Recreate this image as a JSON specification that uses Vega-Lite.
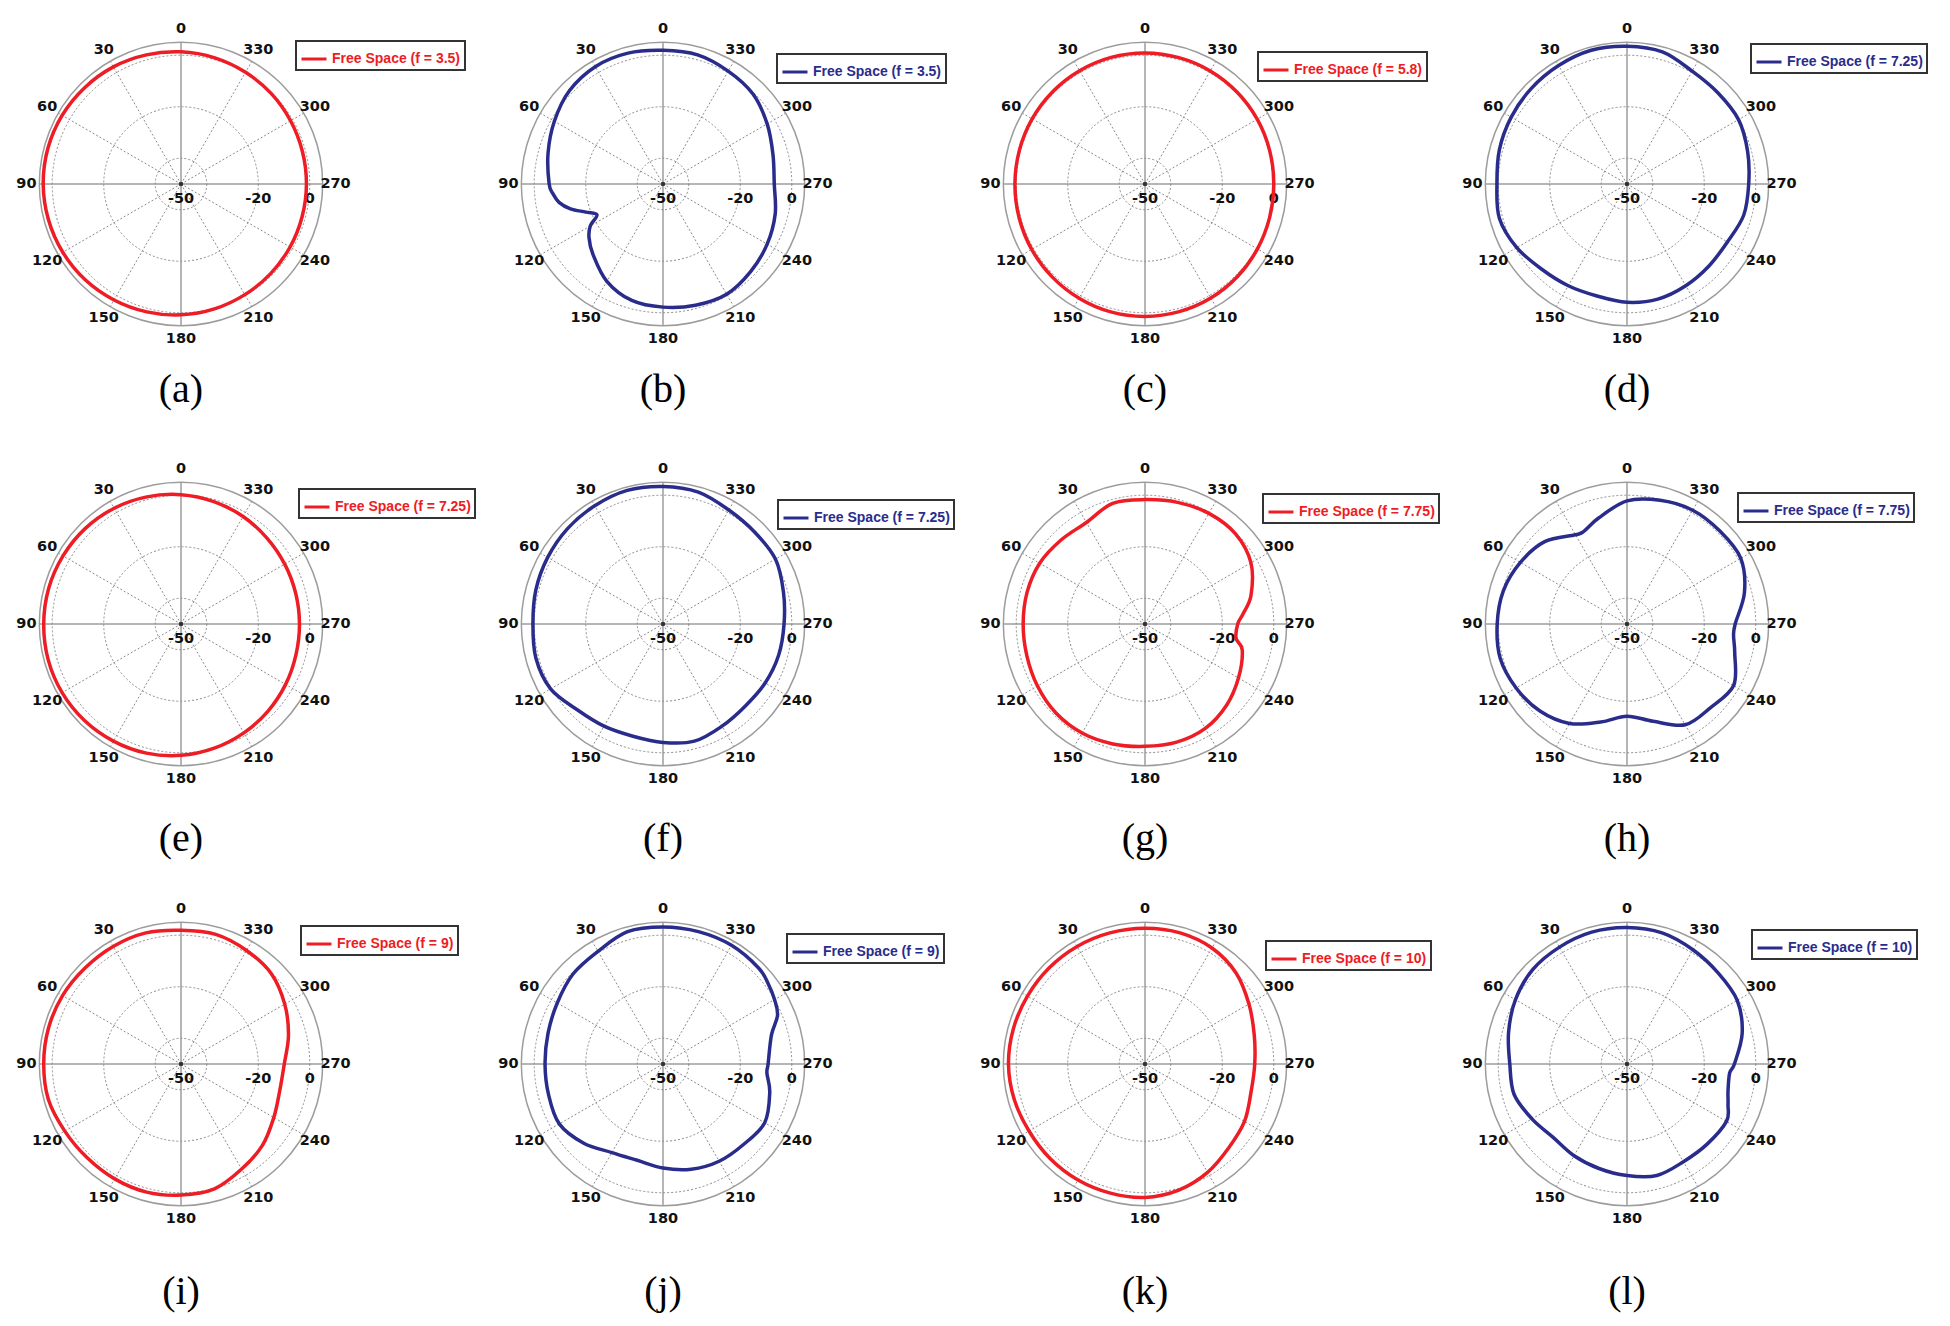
{
"$schema": "https://vega.github.io/schema/vega-lite/v6.json",
"background": "white",
"padding": {"left": 11, "top": 14, "right": 5, "bottom": 5},
"autosize": {"type": "pad"},
"columns": 4,
"spacing": {"row": 100, "column": 142},
"bounds": "flush",
"datasets": {
"ang": [{"a":0},{"a":30},{"a":60},{"a":90},{"a":120},{"a":150},{"a":180},{"a":210},{"a":240},{"a":270},{"a":300},{"a":330}],
"rings": [{"u":10},{"u":30},{"u":50},{"u":55}],
"rlab": [{"u":0,"t":"-50"},{"u":30,"t":"-20"},{"u":50,"t":"0"}],
"gain": [
{"p":"a","a":0,"g":1.3},{"p":"a","a":15,"g":1.9},{"p":"a","a":30,"g":2.5},{"p":"a","a":45,"g":2.9},{"p":"a","a":60,"g":3.3},{"p":"a","a":75,"g":3.5},{"p":"a","a":90,"g":3.5},{"p":"a","a":105,"g":3.3},{"p":"a","a":120,"g":3.0},{"p":"a","a":135,"g":2.6},{"p":"a","a":150,"g":2.0},{"p":"a","a":165,"g":1.4},{"p":"a","a":180,"g":0.8},{"p":"a","a":195,"g":0.2},{"p":"a","a":210,"g":-0.4},{"p":"a","a":225,"g":-0.8},{"p":"a","a":240,"g":-1.1},{"p":"a","a":255,"g":-1.3},{"p":"a","a":270,"g":-1.3},{"p":"a","a":285,"g":-1.2},{"p":"a","a":300,"g":-0.9},{"p":"a","a":315,"g":-0.4},{"p":"a","a":330,"g":0.1},{"p":"a","a":345,"g":0.7},
{"p":"b","a":0,"g":1.9},{"p":"b","a":15,"g":2.6},{"p":"b","a":30,"g":2.6},{"p":"b","a":45,"g":1.3},{"p":"b","a":60,"g":-1.3},{"p":"b","a":75,"g":-3.8},{"p":"b","a":90,"g":-5.8},{"p":"b","a":95,"g":-7.1},{"p":"b","a":100,"g":-9},{"p":"b","a":105,"g":-12.8},{"p":"b","a":110,"g":-18.1},{"p":"b","a":115,"g":-21.7},{"p":"b","a":120,"g":-17.4},{"p":"b","a":126,"g":-14.5},{"p":"b","a":135,"g":-11.5},{"p":"b","a":150,"g":-6.4},{"p":"b","a":165,"g":-3.2},{"p":"b","a":180,"g":-2.2},{"p":"b","a":195,"g":-1.3},{"p":"b","a":210,"g":-0.6},{"p":"b","a":225,"g":-1.9},{"p":"b","a":240,"g":-3.3},{"p":"b","a":255,"g":-4.9},{"p":"b","a":270,"g":-6.8},{"p":"b","a":285,"g":-5.8},{"p":"b","a":300,"g":-3.3},{"p":"b","a":315,"g":-0.6},{"p":"b","a":330,"g":0.6},{"p":"b","a":345,"g":1.9},
{"p":"c","a":0,"g":0.9},{"p":"c","a":15,"g":0.9},{"p":"c","a":30,"g":0.8},{"p":"c","a":45,"g":0.7},{"p":"c","a":60,"g":0.6},{"p":"c","a":75,"g":0.5},{"p":"c","a":90,"g":0.5},{"p":"c","a":105,"g":0.6},{"p":"c","a":120,"g":0.8},{"p":"c","a":135,"g":1.0},{"p":"c","a":150,"g":1.2},{"p":"c","a":165,"g":1.4},{"p":"c","a":180,"g":1.4},{"p":"c","a":195,"g":1.3},{"p":"c","a":210,"g":1.1},{"p":"c","a":225,"g":0.8},{"p":"c","a":240,"g":0.4},{"p":"c","a":255,"g":0.1},{"p":"c","a":270,"g":0.0},{"p":"c","a":285,"g":0.1},{"p":"c","a":300,"g":0.3},{"p":"c","a":315,"g":0.5},{"p":"c","a":330,"g":0.7},{"p":"c","a":345,"g":0.8},
{"p":"d","a":0,"g":3.5},{"p":"d","a":15,"g":3.75},{"p":"d","a":30,"g":3.1},{"p":"d","a":45,"g":2.5},{"p":"d","a":60,"g":1.9},{"p":"d","a":75,"g":1.3},{"p":"d","a":90,"g":0.5},{"p":"d","a":105,"g":1.3},{"p":"d","a":120,"g":-0.6},{"p":"d","a":135,"g":-3.2},{"p":"d","a":150,"g":-4.4},{"p":"d","a":165,"g":-5},{"p":"d","a":180,"g":-4.1},{"p":"d","a":195,"g":-3.75},{"p":"d","a":210,"g":-4.4},{"p":"d","a":225,"g":-5},{"p":"d","a":240,"g":-5},{"p":"d","a":255,"g":-3.1},{"p":"d","a":270,"g":-2.75},{"p":"d","a":285,"g":-1.5},{"p":"d","a":300,"g":0},{"p":"d","a":315,"g":0},{"p":"d","a":330,"g":0.6},{"p":"d","a":345,"g":3.1},
{"p":"e","a":0,"g":0.2},{"p":"e","a":15,"g":1.1},{"p":"e","a":30,"g":1.9},{"p":"e","a":45,"g":2.5},{"p":"e","a":60,"g":2.9},{"p":"e","a":75,"g":3.2},{"p":"e","a":90,"g":3.3},{"p":"e","a":105,"g":3.4},{"p":"e","a":120,"g":3.3},{"p":"e","a":135,"g":3.0},{"p":"e","a":150,"g":2.5},{"p":"e","a":165,"g":1.9},{"p":"e","a":180,"g":1.0},{"p":"e","a":195,"g":-0.1},{"p":"e","a":210,"g":-1.2},{"p":"e","a":225,"g":-2.2},{"p":"e","a":240,"g":-3.1},{"p":"e","a":255,"g":-3.8},{"p":"e","a":270,"g":-4.0},{"p":"e","a":285,"g":-3.9},{"p":"e","a":300,"g":-3.5},{"p":"e","a":315,"g":-2.8},{"p":"e","a":330,"g":-1.8},{"p":"e","a":345,"g":-0.8},
{"p":"f","a":0,"g":3.4},{"p":"f","a":15,"g":3.7},{"p":"f","a":30,"g":3},{"p":"f","a":45,"g":2.4},{"p":"f","a":60,"g":1.7},{"p":"f","a":75,"g":1.1},{"p":"f","a":90,"g":0.5},{"p":"f","a":105,"g":1.1},{"p":"f","a":120,"g":0.4},{"p":"f","a":135,"g":-2.9},{"p":"f","a":150,"g":-4.2},{"p":"f","a":165,"g":-4.9},{"p":"f","a":180,"g":-4},{"p":"f","a":195,"g":-2.9},{"p":"f","a":210,"g":-4.2},{"p":"f","a":225,"g":-4.9},{"p":"f","a":240,"g":-4.2},{"p":"f","a":255,"g":-3.5},{"p":"f","a":270,"g":-3},{"p":"f","a":285,"g":-1.6},{"p":"f","a":300,"g":0.4},{"p":"f","a":315,"g":0.4},{"p":"f","a":330,"g":1.1},{"p":"f","a":345,"g":3},
{"p":"g","a":0,"g":-1.7},{"p":"g","a":15,"g":-1.5},{"p":"g","a":30,"g":-4.5},{"p":"g","a":45,"g":-3.9},{"p":"g","a":60,"g":-2.8},{"p":"g","a":75,"g":-2.6},{"p":"g","a":90,"g":-2.7},{"p":"g","a":105,"g":-2.5},{"p":"g","a":120,"g":-1.8},{"p":"g","a":135,"g":-1.1},{"p":"g","a":150,"g":-1.1},{"p":"g","a":165,"g":-1.8},{"p":"g","a":180,"g":-2.5},{"p":"g","a":195,"g":-2.5},{"p":"g","a":210,"g":-3.2},{"p":"g","a":225,"g":-5.3},{"p":"g","a":240,"g":-8.1},{"p":"g","a":255,"g":-10.9},{"p":"g","a":261,"g":-14.2},{"p":"g","a":270,"g":-14},{"p":"g","a":276,"g":-11.7},{"p":"g","a":285,"g":-7.4},{"p":"g","a":300,"g":-2.5},{"p":"g","a":315,"g":-0.4},{"p":"g","a":330,"g":-0.4},{"p":"g","a":345,"g":-1.1},
{"p":"h","a":0,"g":-2.2},{"p":"h","a":15,"g":-7.4},{"p":"h","a":25,"g":-10.3},{"p":"h","a":30,"g":-10},{"p":"h","a":45,"g":-4.8},{"p":"h","a":60,"g":-2.2},{"p":"h","a":75,"g":-0.3},{"p":"h","a":90,"g":0.4},{"p":"h","a":105,"g":1},{"p":"h","a":120,"g":-0.3},{"p":"h","a":135,"g":-2.2},{"p":"h","a":150,"g":-5.4},{"p":"h","a":165,"g":-10.6},{"p":"h","a":180,"g":-14.2},{"p":"h","a":195,"g":-10.9},{"p":"h","a":210,"g":-4.8},{"p":"h","a":225,"g":-4.1},{"p":"h","a":240,"g":-2.2},{"p":"h","a":255,"g":-6.7},{"p":"h","a":264,"g":-8.4},{"p":"h","a":270,"g":-8},{"p":"h","a":285,"g":-2.8},{"p":"h","a":300,"g":1},{"p":"h","a":315,"g":1},{"p":"h","a":330,"g":1},{"p":"h","a":345,"g":-0.3},
{"p":"i","a":0,"g":1.9},{"p":"i","a":15,"g":2.7},{"p":"i","a":30,"g":2.7},{"p":"i","a":45,"g":2.7},{"p":"i","a":60,"g":3.1},{"p":"i","a":75,"g":3.3},{"p":"i","a":90,"g":3.3},{"p":"i","a":105,"g":3.3},{"p":"i","a":120,"g":2.1},{"p":"i","a":135,"g":1.5},{"p":"i","a":150,"g":1.5},{"p":"i","a":165,"g":1.5},{"p":"i","a":180,"g":0.9},{"p":"i","a":195,"g":0.2},{"p":"i","a":210,"g":-2.9},{"p":"i","a":225,"g":-5.3},{"p":"i","a":240,"g":-8.4},{"p":"i","a":255,"g":-10.3},{"p":"i","a":270,"g":-9.9},{"p":"i","a":285,"g":-6.8},{"p":"i","a":300,"g":-3.5},{"p":"i","a":315,"g":-0.4},{"p":"i","a":330,"g":0.9},{"p":"i","a":345,"g":2.1},
{"p":"j","a":0,"g":3.2},{"p":"j","a":15,"g":3.2},{"p":"j","a":30,"g":0.5},{"p":"j","a":45,"g":-0.6},{"p":"j","a":60,"g":-2.6},{"p":"j","a":75,"g":-3.8},{"p":"j","a":90,"g":-4.2},{"p":"j","a":105,"g":-4},{"p":"j","a":120,"g":-3.5},{"p":"j","a":135,"g":-6.5},{"p":"j","a":150,"g":-10.3},{"p":"j","a":165,"g":-11.3},{"p":"j","a":180,"g":-9.6},{"p":"j","a":195,"g":-7.7},{"p":"j","a":210,"g":-6.4},{"p":"j","a":225,"g":-5.8},{"p":"j","a":240,"g":-4.4},{"p":"j","a":255,"g":-7.1},{"p":"j","a":265,"g":-9.5},{"p":"j","a":270,"g":-9.2},{"p":"j","a":285,"g":-6.4},{"p":"j","a":293,"g":-1.7},{"p":"j","a":300,"g":0},{"p":"j","a":307,"g":1.3},{"p":"j","a":315,"g":2.6},{"p":"j","a":330,"g":3.2},{"p":"j","a":345,"g":3.2},
{"p":"k","a":0,"g":2.7},{"p":"k","a":15,"g":2.7},{"p":"k","a":30,"g":2.7},{"p":"k","a":45,"g":2.7},{"p":"k","a":60,"g":2.7},{"p":"k","a":75,"g":2.9},{"p":"k","a":90,"g":3},{"p":"k","a":105,"g":2.6},{"p":"k","a":120,"g":2},{"p":"k","a":135,"g":2},{"p":"k","a":150,"g":2},{"p":"k","a":165,"g":1.9},{"p":"k","a":180,"g":1.8},{"p":"k","a":195,"g":0.7},{"p":"k","a":210,"g":-1.4},{"p":"k","a":225,"g":-4},{"p":"k","a":240,"g":-5.4},{"p":"k","a":255,"g":-7.4},{"p":"k","a":270,"g":-7.4},{"p":"k","a":285,"g":-6.1},{"p":"k","a":300,"g":-3.4},{"p":"k","a":315,"g":0},{"p":"k","a":330,"g":2},{"p":"k","a":345,"g":2.7},
{"p":"l","a":0,"g":3},{"p":"l","a":15,"g":3},{"p":"l","a":30,"g":2.4},{"p":"l","a":45,"g":1.8},{"p":"l","a":60,"g":0},{"p":"l","a":75,"g":-2.4},{"p":"l","a":90,"g":-4.5},{"p":"l","a":105,"g":-4.6},{"p":"l","a":120,"g":-7.4},{"p":"l","a":135,"g":-9.6},{"p":"l","a":150,"g":-8.9},{"p":"l","a":165,"g":-8},{"p":"l","a":180,"g":-6.7},{"p":"l","a":195,"g":-5.2},{"p":"l","a":210,"g":-6.2},{"p":"l","a":225,"g":-6},{"p":"l","a":240,"g":-5.4},{"p":"l","a":248,"g":-7.7},{"p":"l","a":255,"g":-9.4},{"p":"l","a":265,"g":-10},{"p":"l","a":270,"g":-8.3},{"p":"l","a":285,"g":-3.7},{"p":"l","a":300,"g":-0.6},{"p":"l","a":315,"g":0},{"p":"l","a":330,"g":1.2},{"p":"l","a":345,"g":2.7}
]
},
"concat": [
{"width":340,"height":340,"title":{"text":"(a)","offset":16},
"encoding":{"x":{"field":"x","type":"quantitative","scale":{"domain":[-66,66]},"axis":null},"y":{"field":"y","type":"quantitative","scale":{"domain":[-66,66]},"axis":null}},
"layer":[
{"data":{"name":"ang"},"transform":[{"filter":"datum.a % 90 != 0"},{"calculate":"0","as":"x"},{"calculate":"0","as":"y"},{"calculate":"-55*sin(datum.a*PI/180)","as":"x2"},{"calculate":"55*cos(datum.a*PI/180)","as":"y2"}],"mark":{"type":"rule","stroke":"#8c8c8c","strokeWidth":1,"strokeDash":[2,2]},"encoding":{"x2":{"field":"x2"},"y2":{"field":"y2"}}},
{"data":{"name":"ang"},"transform":[{"filter":"datum.a % 90 == 0"},{"calculate":"0","as":"x"},{"calculate":"0","as":"y"},{"calculate":"-55*sin(datum.a*PI/180)","as":"x2"},{"calculate":"55*cos(datum.a*PI/180)","as":"y2"}],"mark":{"type":"rule","stroke":"#9c9c9c","strokeWidth":1.5},"encoding":{"x2":{"field":"x2"},"y2":{"field":"y2"}}},
{"data":{"name":"rings"},"transform":[{"filter":"datum.u < 55"},{"calculate":"0","as":"x"},{"calculate":"0","as":"y"}],"mark":{"type":"point","shape":"circle","filled":false,"opacity":1,"stroke":"#8c8c8c","strokeWidth":1,"strokeDash":[2,2]},"encoding":{"size":{"field":"u","type":"quantitative","scale":{"type":"pow","exponent":2,"domain":[0,66],"range":[0,115600]},"legend":null}}},
{"data":{"name":"rings"},"transform":[{"filter":"datum.u == 55"},{"calculate":"0","as":"x"},{"calculate":"0","as":"y"}],"mark":{"type":"point","shape":"circle","filled":false,"opacity":1,"stroke":"#9c9c9c","strokeWidth":1.5},"encoding":{"size":{"field":"u","type":"quantitative","scale":{"type":"pow","exponent":2,"domain":[0,66],"range":[0,115600]},"legend":null}}},
{"data":{"name":"ang"},"transform":[{"calculate":"-60*sin(datum.a*PI/180)","as":"x"},{"calculate":"60*cos(datum.a*PI/180)","as":"y"}],"mark":{"type":"text","font":"DejaVu Sans","fontWeight":"bold","fontSize":14.5,"color":"#111"},"encoding":{"text":{"field":"a","type":"nominal"}}},
{"data":{"name":"rlab"},"transform":[{"calculate":"datum.u","as":"x"},{"calculate":"0","as":"y"}],"mark":{"type":"text","font":"DejaVu Sans","fontWeight":"bold","fontSize":14.5,"color":"#111","dy":15},"encoding":{"text":{"field":"t","type":"nominal"}}},
{"data":{"name":"rlab"},"transform":[{"filter":"datum.u == 0"},{"calculate":"0","as":"x"},{"calculate":"0","as":"y"}],"mark":{"type":"point","filled":true,"opacity":1,"color":"#333","size":20}},
{"data":{"name":"gain"},"transform":[{"filter":"datum.p == 'a'"},{"calculate":"-(datum.g+50)*sin(datum.a*PI/180)","as":"x"},{"calculate":"(datum.g+50)*cos(datum.a*PI/180)","as":"y"}],"mark":{"type":"line","interpolate":"cardinal-closed","strokeWidth":3.5},"encoding":{"order":{"field":"a","type":"quantitative"},"color":{"datum":"Free Space (f = 3.5)","type":"nominal","scale":{"range":["#ee1c24"]},"legend":{"title":null,"orient":"none","legendX":285,"legendY":27,"labelColor":"#ee1c24"}}}}
]},
{"width":340,"height":340,"title":{"text":"(b)","offset":16},
"encoding":{"x":{"field":"x","type":"quantitative","scale":{"domain":[-66,66]},"axis":null},"y":{"field":"y","type":"quantitative","scale":{"domain":[-66,66]},"axis":null}},
"layer":[
{"data":{"name":"ang"},"transform":[{"filter":"datum.a % 90 != 0"},{"calculate":"0","as":"x"},{"calculate":"0","as":"y"},{"calculate":"-55*sin(datum.a*PI/180)","as":"x2"},{"calculate":"55*cos(datum.a*PI/180)","as":"y2"}],"mark":{"type":"rule","stroke":"#8c8c8c","strokeWidth":1,"strokeDash":[2,2]},"encoding":{"x2":{"field":"x2"},"y2":{"field":"y2"}}},
{"data":{"name":"ang"},"transform":[{"filter":"datum.a % 90 == 0"},{"calculate":"0","as":"x"},{"calculate":"0","as":"y"},{"calculate":"-55*sin(datum.a*PI/180)","as":"x2"},{"calculate":"55*cos(datum.a*PI/180)","as":"y2"}],"mark":{"type":"rule","stroke":"#9c9c9c","strokeWidth":1.5},"encoding":{"x2":{"field":"x2"},"y2":{"field":"y2"}}},
{"data":{"name":"rings"},"transform":[{"filter":"datum.u < 55"},{"calculate":"0","as":"x"},{"calculate":"0","as":"y"}],"mark":{"type":"point","shape":"circle","filled":false,"opacity":1,"stroke":"#8c8c8c","strokeWidth":1,"strokeDash":[2,2]},"encoding":{"size":{"field":"u","type":"quantitative","scale":{"type":"pow","exponent":2,"domain":[0,66],"range":[0,115600]},"legend":null}}},
{"data":{"name":"rings"},"transform":[{"filter":"datum.u == 55"},{"calculate":"0","as":"x"},{"calculate":"0","as":"y"}],"mark":{"type":"point","shape":"circle","filled":false,"opacity":1,"stroke":"#9c9c9c","strokeWidth":1.5},"encoding":{"size":{"field":"u","type":"quantitative","scale":{"type":"pow","exponent":2,"domain":[0,66],"range":[0,115600]},"legend":null}}},
{"data":{"name":"ang"},"transform":[{"calculate":"-60*sin(datum.a*PI/180)","as":"x"},{"calculate":"60*cos(datum.a*PI/180)","as":"y"}],"mark":{"type":"text","font":"DejaVu Sans","fontWeight":"bold","fontSize":14.5,"color":"#111"},"encoding":{"text":{"field":"a","type":"nominal"}}},
{"data":{"name":"rlab"},"transform":[{"calculate":"datum.u","as":"x"},{"calculate":"0","as":"y"}],"mark":{"type":"text","font":"DejaVu Sans","fontWeight":"bold","fontSize":14.5,"color":"#111","dy":15},"encoding":{"text":{"field":"t","type":"nominal"}}},
{"data":{"name":"rlab"},"transform":[{"filter":"datum.u == 0"},{"calculate":"0","as":"x"},{"calculate":"0","as":"y"}],"mark":{"type":"point","filled":true,"opacity":1,"color":"#333","size":20}},
{"data":{"name":"gain"},"transform":[{"filter":"datum.p == 'b'"},{"calculate":"-(datum.g+50)*sin(datum.a*PI/180)","as":"x"},{"calculate":"(datum.g+50)*cos(datum.a*PI/180)","as":"y"}],"mark":{"type":"line","interpolate":"cardinal-closed","strokeWidth":3.5},"encoding":{"order":{"field":"a","type":"quantitative"},"color":{"datum":"Free Space (f = 3.5)","type":"nominal","scale":{"range":["#2a2c8c"]},"legend":{"title":null,"orient":"none","legendX":284,"legendY":40,"labelColor":"#2a2c8c"}}}}
]},
{"width":340,"height":340,"title":{"text":"(c)","offset":16},
"encoding":{"x":{"field":"x","type":"quantitative","scale":{"domain":[-66,66]},"axis":null},"y":{"field":"y","type":"quantitative","scale":{"domain":[-66,66]},"axis":null}},
"layer":[
{"data":{"name":"ang"},"transform":[{"filter":"datum.a % 90 != 0"},{"calculate":"0","as":"x"},{"calculate":"0","as":"y"},{"calculate":"-55*sin(datum.a*PI/180)","as":"x2"},{"calculate":"55*cos(datum.a*PI/180)","as":"y2"}],"mark":{"type":"rule","stroke":"#8c8c8c","strokeWidth":1,"strokeDash":[2,2]},"encoding":{"x2":{"field":"x2"},"y2":{"field":"y2"}}},
{"data":{"name":"ang"},"transform":[{"filter":"datum.a % 90 == 0"},{"calculate":"0","as":"x"},{"calculate":"0","as":"y"},{"calculate":"-55*sin(datum.a*PI/180)","as":"x2"},{"calculate":"55*cos(datum.a*PI/180)","as":"y2"}],"mark":{"type":"rule","stroke":"#9c9c9c","strokeWidth":1.5},"encoding":{"x2":{"field":"x2"},"y2":{"field":"y2"}}},
{"data":{"name":"rings"},"transform":[{"filter":"datum.u < 55"},{"calculate":"0","as":"x"},{"calculate":"0","as":"y"}],"mark":{"type":"point","shape":"circle","filled":false,"opacity":1,"stroke":"#8c8c8c","strokeWidth":1,"strokeDash":[2,2]},"encoding":{"size":{"field":"u","type":"quantitative","scale":{"type":"pow","exponent":2,"domain":[0,66],"range":[0,115600]},"legend":null}}},
{"data":{"name":"rings"},"transform":[{"filter":"datum.u == 55"},{"calculate":"0","as":"x"},{"calculate":"0","as":"y"}],"mark":{"type":"point","shape":"circle","filled":false,"opacity":1,"stroke":"#9c9c9c","strokeWidth":1.5},"encoding":{"size":{"field":"u","type":"quantitative","scale":{"type":"pow","exponent":2,"domain":[0,66],"range":[0,115600]},"legend":null}}},
{"data":{"name":"ang"},"transform":[{"calculate":"-60*sin(datum.a*PI/180)","as":"x"},{"calculate":"60*cos(datum.a*PI/180)","as":"y"}],"mark":{"type":"text","font":"DejaVu Sans","fontWeight":"bold","fontSize":14.5,"color":"#111"},"encoding":{"text":{"field":"a","type":"nominal"}}},
{"data":{"name":"rlab"},"transform":[{"calculate":"datum.u","as":"x"},{"calculate":"0","as":"y"}],"mark":{"type":"text","font":"DejaVu Sans","fontWeight":"bold","fontSize":14.5,"color":"#111","dy":15},"encoding":{"text":{"field":"t","type":"nominal"}}},
{"data":{"name":"rlab"},"transform":[{"filter":"datum.u == 0"},{"calculate":"0","as":"x"},{"calculate":"0","as":"y"}],"mark":{"type":"point","filled":true,"opacity":1,"color":"#333","size":20}},
{"data":{"name":"gain"},"transform":[{"filter":"datum.p == 'c'"},{"calculate":"-(datum.g+50)*sin(datum.a*PI/180)","as":"x"},{"calculate":"(datum.g+50)*cos(datum.a*PI/180)","as":"y"}],"mark":{"type":"line","interpolate":"cardinal-closed","strokeWidth":3.5},"encoding":{"order":{"field":"a","type":"quantitative"},"color":{"datum":"Free Space (f = 5.8)","type":"nominal","scale":{"range":["#ee1c24"]},"legend":{"title":null,"orient":"none","legendX":283,"legendY":38,"labelColor":"#ee1c24"}}}}
]},
{"width":340,"height":340,"title":{"text":"(d)","offset":16},
"encoding":{"x":{"field":"x","type":"quantitative","scale":{"domain":[-66,66]},"axis":null},"y":{"field":"y","type":"quantitative","scale":{"domain":[-66,66]},"axis":null}},
"layer":[
{"data":{"name":"ang"},"transform":[{"filter":"datum.a % 90 != 0"},{"calculate":"0","as":"x"},{"calculate":"0","as":"y"},{"calculate":"-55*sin(datum.a*PI/180)","as":"x2"},{"calculate":"55*cos(datum.a*PI/180)","as":"y2"}],"mark":{"type":"rule","stroke":"#8c8c8c","strokeWidth":1,"strokeDash":[2,2]},"encoding":{"x2":{"field":"x2"},"y2":{"field":"y2"}}},
{"data":{"name":"ang"},"transform":[{"filter":"datum.a % 90 == 0"},{"calculate":"0","as":"x"},{"calculate":"0","as":"y"},{"calculate":"-55*sin(datum.a*PI/180)","as":"x2"},{"calculate":"55*cos(datum.a*PI/180)","as":"y2"}],"mark":{"type":"rule","stroke":"#9c9c9c","strokeWidth":1.5},"encoding":{"x2":{"field":"x2"},"y2":{"field":"y2"}}},
{"data":{"name":"rings"},"transform":[{"filter":"datum.u < 55"},{"calculate":"0","as":"x"},{"calculate":"0","as":"y"}],"mark":{"type":"point","shape":"circle","filled":false,"opacity":1,"stroke":"#8c8c8c","strokeWidth":1,"strokeDash":[2,2]},"encoding":{"size":{"field":"u","type":"quantitative","scale":{"type":"pow","exponent":2,"domain":[0,66],"range":[0,115600]},"legend":null}}},
{"data":{"name":"rings"},"transform":[{"filter":"datum.u == 55"},{"calculate":"0","as":"x"},{"calculate":"0","as":"y"}],"mark":{"type":"point","shape":"circle","filled":false,"opacity":1,"stroke":"#9c9c9c","strokeWidth":1.5},"encoding":{"size":{"field":"u","type":"quantitative","scale":{"type":"pow","exponent":2,"domain":[0,66],"range":[0,115600]},"legend":null}}},
{"data":{"name":"ang"},"transform":[{"calculate":"-60*sin(datum.a*PI/180)","as":"x"},{"calculate":"60*cos(datum.a*PI/180)","as":"y"}],"mark":{"type":"text","font":"DejaVu Sans","fontWeight":"bold","fontSize":14.5,"color":"#111"},"encoding":{"text":{"field":"a","type":"nominal"}}},
{"data":{"name":"rlab"},"transform":[{"calculate":"datum.u","as":"x"},{"calculate":"0","as":"y"}],"mark":{"type":"text","font":"DejaVu Sans","fontWeight":"bold","fontSize":14.5,"color":"#111","dy":15},"encoding":{"text":{"field":"t","type":"nominal"}}},
{"data":{"name":"rlab"},"transform":[{"filter":"datum.u == 0"},{"calculate":"0","as":"x"},{"calculate":"0","as":"y"}],"mark":{"type":"point","filled":true,"opacity":1,"color":"#333","size":20}},
{"data":{"name":"gain"},"transform":[{"filter":"datum.p == 'd'"},{"calculate":"-(datum.g+50)*sin(datum.a*PI/180)","as":"x"},{"calculate":"(datum.g+50)*cos(datum.a*PI/180)","as":"y"}],"mark":{"type":"line","interpolate":"cardinal-closed","strokeWidth":3.5},"encoding":{"order":{"field":"a","type":"quantitative"},"color":{"datum":"Free Space (f = 7.25)","type":"nominal","scale":{"range":["#2a2c8c"]},"legend":{"title":null,"orient":"none","legendX":294,"legendY":30,"labelColor":"#2a2c8c"}}}}
]},
{"width":340,"height":340,"title":{"text":"(e)","offset":25},
"encoding":{"x":{"field":"x","type":"quantitative","scale":{"domain":[-66,66]},"axis":null},"y":{"field":"y","type":"quantitative","scale":{"domain":[-66,66]},"axis":null}},
"layer":[
{"data":{"name":"ang"},"transform":[{"filter":"datum.a % 90 != 0"},{"calculate":"0","as":"x"},{"calculate":"0","as":"y"},{"calculate":"-55*sin(datum.a*PI/180)","as":"x2"},{"calculate":"55*cos(datum.a*PI/180)","as":"y2"}],"mark":{"type":"rule","stroke":"#8c8c8c","strokeWidth":1,"strokeDash":[2,2]},"encoding":{"x2":{"field":"x2"},"y2":{"field":"y2"}}},
{"data":{"name":"ang"},"transform":[{"filter":"datum.a % 90 == 0"},{"calculate":"0","as":"x"},{"calculate":"0","as":"y"},{"calculate":"-55*sin(datum.a*PI/180)","as":"x2"},{"calculate":"55*cos(datum.a*PI/180)","as":"y2"}],"mark":{"type":"rule","stroke":"#9c9c9c","strokeWidth":1.5},"encoding":{"x2":{"field":"x2"},"y2":{"field":"y2"}}},
{"data":{"name":"rings"},"transform":[{"filter":"datum.u < 55"},{"calculate":"0","as":"x"},{"calculate":"0","as":"y"}],"mark":{"type":"point","shape":"circle","filled":false,"opacity":1,"stroke":"#8c8c8c","strokeWidth":1,"strokeDash":[2,2]},"encoding":{"size":{"field":"u","type":"quantitative","scale":{"type":"pow","exponent":2,"domain":[0,66],"range":[0,115600]},"legend":null}}},
{"data":{"name":"rings"},"transform":[{"filter":"datum.u == 55"},{"calculate":"0","as":"x"},{"calculate":"0","as":"y"}],"mark":{"type":"point","shape":"circle","filled":false,"opacity":1,"stroke":"#9c9c9c","strokeWidth":1.5},"encoding":{"size":{"field":"u","type":"quantitative","scale":{"type":"pow","exponent":2,"domain":[0,66],"range":[0,115600]},"legend":null}}},
{"data":{"name":"ang"},"transform":[{"calculate":"-60*sin(datum.a*PI/180)","as":"x"},{"calculate":"60*cos(datum.a*PI/180)","as":"y"}],"mark":{"type":"text","font":"DejaVu Sans","fontWeight":"bold","fontSize":14.5,"color":"#111"},"encoding":{"text":{"field":"a","type":"nominal"}}},
{"data":{"name":"rlab"},"transform":[{"calculate":"datum.u","as":"x"},{"calculate":"0","as":"y"}],"mark":{"type":"text","font":"DejaVu Sans","fontWeight":"bold","fontSize":14.5,"color":"#111","dy":15},"encoding":{"text":{"field":"t","type":"nominal"}}},
{"data":{"name":"rlab"},"transform":[{"filter":"datum.u == 0"},{"calculate":"0","as":"x"},{"calculate":"0","as":"y"}],"mark":{"type":"point","filled":true,"opacity":1,"color":"#333","size":20}},
{"data":{"name":"gain"},"transform":[{"filter":"datum.p == 'e'"},{"calculate":"-(datum.g+50)*sin(datum.a*PI/180)","as":"x"},{"calculate":"(datum.g+50)*cos(datum.a*PI/180)","as":"y"}],"mark":{"type":"line","interpolate":"cardinal-closed","strokeWidth":3.5},"encoding":{"order":{"field":"a","type":"quantitative"},"color":{"datum":"Free Space (f = 7.25)","type":"nominal","scale":{"range":["#ee1c24"]},"legend":{"title":null,"orient":"none","legendX":288,"legendY":35,"labelColor":"#ee1c24"}}}}
]},
{"width":340,"height":340,"title":{"text":"(f)","offset":25},
"encoding":{"x":{"field":"x","type":"quantitative","scale":{"domain":[-66,66]},"axis":null},"y":{"field":"y","type":"quantitative","scale":{"domain":[-66,66]},"axis":null}},
"layer":[
{"data":{"name":"ang"},"transform":[{"filter":"datum.a % 90 != 0"},{"calculate":"0","as":"x"},{"calculate":"0","as":"y"},{"calculate":"-55*sin(datum.a*PI/180)","as":"x2"},{"calculate":"55*cos(datum.a*PI/180)","as":"y2"}],"mark":{"type":"rule","stroke":"#8c8c8c","strokeWidth":1,"strokeDash":[2,2]},"encoding":{"x2":{"field":"x2"},"y2":{"field":"y2"}}},
{"data":{"name":"ang"},"transform":[{"filter":"datum.a % 90 == 0"},{"calculate":"0","as":"x"},{"calculate":"0","as":"y"},{"calculate":"-55*sin(datum.a*PI/180)","as":"x2"},{"calculate":"55*cos(datum.a*PI/180)","as":"y2"}],"mark":{"type":"rule","stroke":"#9c9c9c","strokeWidth":1.5},"encoding":{"x2":{"field":"x2"},"y2":{"field":"y2"}}},
{"data":{"name":"rings"},"transform":[{"filter":"datum.u < 55"},{"calculate":"0","as":"x"},{"calculate":"0","as":"y"}],"mark":{"type":"point","shape":"circle","filled":false,"opacity":1,"stroke":"#8c8c8c","strokeWidth":1,"strokeDash":[2,2]},"encoding":{"size":{"field":"u","type":"quantitative","scale":{"type":"pow","exponent":2,"domain":[0,66],"range":[0,115600]},"legend":null}}},
{"data":{"name":"rings"},"transform":[{"filter":"datum.u == 55"},{"calculate":"0","as":"x"},{"calculate":"0","as":"y"}],"mark":{"type":"point","shape":"circle","filled":false,"opacity":1,"stroke":"#9c9c9c","strokeWidth":1.5},"encoding":{"size":{"field":"u","type":"quantitative","scale":{"type":"pow","exponent":2,"domain":[0,66],"range":[0,115600]},"legend":null}}},
{"data":{"name":"ang"},"transform":[{"calculate":"-60*sin(datum.a*PI/180)","as":"x"},{"calculate":"60*cos(datum.a*PI/180)","as":"y"}],"mark":{"type":"text","font":"DejaVu Sans","fontWeight":"bold","fontSize":14.5,"color":"#111"},"encoding":{"text":{"field":"a","type":"nominal"}}},
{"data":{"name":"rlab"},"transform":[{"calculate":"datum.u","as":"x"},{"calculate":"0","as":"y"}],"mark":{"type":"text","font":"DejaVu Sans","fontWeight":"bold","fontSize":14.5,"color":"#111","dy":15},"encoding":{"text":{"field":"t","type":"nominal"}}},
{"data":{"name":"rlab"},"transform":[{"filter":"datum.u == 0"},{"calculate":"0","as":"x"},{"calculate":"0","as":"y"}],"mark":{"type":"point","filled":true,"opacity":1,"color":"#333","size":20}},
{"data":{"name":"gain"},"transform":[{"filter":"datum.p == 'f'"},{"calculate":"-(datum.g+50)*sin(datum.a*PI/180)","as":"x"},{"calculate":"(datum.g+50)*cos(datum.a*PI/180)","as":"y"}],"mark":{"type":"line","interpolate":"cardinal-closed","strokeWidth":3.5},"encoding":{"order":{"field":"a","type":"quantitative"},"color":{"datum":"Free Space (f = 7.25)","type":"nominal","scale":{"range":["#2a2c8c"]},"legend":{"title":null,"orient":"none","legendX":285,"legendY":46,"labelColor":"#2a2c8c"}}}}
]},
{"width":340,"height":340,"title":{"text":"(g)","offset":25},
"encoding":{"x":{"field":"x","type":"quantitative","scale":{"domain":[-66,66]},"axis":null},"y":{"field":"y","type":"quantitative","scale":{"domain":[-66,66]},"axis":null}},
"layer":[
{"data":{"name":"ang"},"transform":[{"filter":"datum.a % 90 != 0"},{"calculate":"0","as":"x"},{"calculate":"0","as":"y"},{"calculate":"-55*sin(datum.a*PI/180)","as":"x2"},{"calculate":"55*cos(datum.a*PI/180)","as":"y2"}],"mark":{"type":"rule","stroke":"#8c8c8c","strokeWidth":1,"strokeDash":[2,2]},"encoding":{"x2":{"field":"x2"},"y2":{"field":"y2"}}},
{"data":{"name":"ang"},"transform":[{"filter":"datum.a % 90 == 0"},{"calculate":"0","as":"x"},{"calculate":"0","as":"y"},{"calculate":"-55*sin(datum.a*PI/180)","as":"x2"},{"calculate":"55*cos(datum.a*PI/180)","as":"y2"}],"mark":{"type":"rule","stroke":"#9c9c9c","strokeWidth":1.5},"encoding":{"x2":{"field":"x2"},"y2":{"field":"y2"}}},
{"data":{"name":"rings"},"transform":[{"filter":"datum.u < 55"},{"calculate":"0","as":"x"},{"calculate":"0","as":"y"}],"mark":{"type":"point","shape":"circle","filled":false,"opacity":1,"stroke":"#8c8c8c","strokeWidth":1,"strokeDash":[2,2]},"encoding":{"size":{"field":"u","type":"quantitative","scale":{"type":"pow","exponent":2,"domain":[0,66],"range":[0,115600]},"legend":null}}},
{"data":{"name":"rings"},"transform":[{"filter":"datum.u == 55"},{"calculate":"0","as":"x"},{"calculate":"0","as":"y"}],"mark":{"type":"point","shape":"circle","filled":false,"opacity":1,"stroke":"#9c9c9c","strokeWidth":1.5},"encoding":{"size":{"field":"u","type":"quantitative","scale":{"type":"pow","exponent":2,"domain":[0,66],"range":[0,115600]},"legend":null}}},
{"data":{"name":"ang"},"transform":[{"calculate":"-60*sin(datum.a*PI/180)","as":"x"},{"calculate":"60*cos(datum.a*PI/180)","as":"y"}],"mark":{"type":"text","font":"DejaVu Sans","fontWeight":"bold","fontSize":14.5,"color":"#111"},"encoding":{"text":{"field":"a","type":"nominal"}}},
{"data":{"name":"rlab"},"transform":[{"calculate":"datum.u","as":"x"},{"calculate":"0","as":"y"}],"mark":{"type":"text","font":"DejaVu Sans","fontWeight":"bold","fontSize":14.5,"color":"#111","dy":15},"encoding":{"text":{"field":"t","type":"nominal"}}},
{"data":{"name":"rlab"},"transform":[{"filter":"datum.u == 0"},{"calculate":"0","as":"x"},{"calculate":"0","as":"y"}],"mark":{"type":"point","filled":true,"opacity":1,"color":"#333","size":20}},
{"data":{"name":"gain"},"transform":[{"filter":"datum.p == 'g'"},{"calculate":"-(datum.g+50)*sin(datum.a*PI/180)","as":"x"},{"calculate":"(datum.g+50)*cos(datum.a*PI/180)","as":"y"}],"mark":{"type":"line","interpolate":"cardinal-closed","strokeWidth":3.5},"encoding":{"order":{"field":"a","type":"quantitative"},"color":{"datum":"Free Space (f = 7.75)","type":"nominal","scale":{"range":["#ee1c24"]},"legend":{"title":null,"orient":"none","legendX":288,"legendY":40,"labelColor":"#ee1c24"}}}}
]},
{"width":340,"height":340,"title":{"text":"(h)","offset":25},
"encoding":{"x":{"field":"x","type":"quantitative","scale":{"domain":[-66,66]},"axis":null},"y":{"field":"y","type":"quantitative","scale":{"domain":[-66,66]},"axis":null}},
"layer":[
{"data":{"name":"ang"},"transform":[{"filter":"datum.a % 90 != 0"},{"calculate":"0","as":"x"},{"calculate":"0","as":"y"},{"calculate":"-55*sin(datum.a*PI/180)","as":"x2"},{"calculate":"55*cos(datum.a*PI/180)","as":"y2"}],"mark":{"type":"rule","stroke":"#8c8c8c","strokeWidth":1,"strokeDash":[2,2]},"encoding":{"x2":{"field":"x2"},"y2":{"field":"y2"}}},
{"data":{"name":"ang"},"transform":[{"filter":"datum.a % 90 == 0"},{"calculate":"0","as":"x"},{"calculate":"0","as":"y"},{"calculate":"-55*sin(datum.a*PI/180)","as":"x2"},{"calculate":"55*cos(datum.a*PI/180)","as":"y2"}],"mark":{"type":"rule","stroke":"#9c9c9c","strokeWidth":1.5},"encoding":{"x2":{"field":"x2"},"y2":{"field":"y2"}}},
{"data":{"name":"rings"},"transform":[{"filter":"datum.u < 55"},{"calculate":"0","as":"x"},{"calculate":"0","as":"y"}],"mark":{"type":"point","shape":"circle","filled":false,"opacity":1,"stroke":"#8c8c8c","strokeWidth":1,"strokeDash":[2,2]},"encoding":{"size":{"field":"u","type":"quantitative","scale":{"type":"pow","exponent":2,"domain":[0,66],"range":[0,115600]},"legend":null}}},
{"data":{"name":"rings"},"transform":[{"filter":"datum.u == 55"},{"calculate":"0","as":"x"},{"calculate":"0","as":"y"}],"mark":{"type":"point","shape":"circle","filled":false,"opacity":1,"stroke":"#9c9c9c","strokeWidth":1.5},"encoding":{"size":{"field":"u","type":"quantitative","scale":{"type":"pow","exponent":2,"domain":[0,66],"range":[0,115600]},"legend":null}}},
{"data":{"name":"ang"},"transform":[{"calculate":"-60*sin(datum.a*PI/180)","as":"x"},{"calculate":"60*cos(datum.a*PI/180)","as":"y"}],"mark":{"type":"text","font":"DejaVu Sans","fontWeight":"bold","fontSize":14.5,"color":"#111"},"encoding":{"text":{"field":"a","type":"nominal"}}},
{"data":{"name":"rlab"},"transform":[{"calculate":"datum.u","as":"x"},{"calculate":"0","as":"y"}],"mark":{"type":"text","font":"DejaVu Sans","fontWeight":"bold","fontSize":14.5,"color":"#111","dy":15},"encoding":{"text":{"field":"t","type":"nominal"}}},
{"data":{"name":"rlab"},"transform":[{"filter":"datum.u == 0"},{"calculate":"0","as":"x"},{"calculate":"0","as":"y"}],"mark":{"type":"point","filled":true,"opacity":1,"color":"#333","size":20}},
{"data":{"name":"gain"},"transform":[{"filter":"datum.p == 'h'"},{"calculate":"-(datum.g+50)*sin(datum.a*PI/180)","as":"x"},{"calculate":"(datum.g+50)*cos(datum.a*PI/180)","as":"y"}],"mark":{"type":"line","interpolate":"cardinal-closed","strokeWidth":3.5},"encoding":{"order":{"field":"a","type":"quantitative"},"color":{"datum":"Free Space (f = 7.75)","type":"nominal","scale":{"range":["#2a2c8c"]},"legend":{"title":null,"orient":"none","legendX":281,"legendY":39,"labelColor":"#2a2c8c"}}}}
]},
{"width":340,"height":340,"title":{"text":"(i)","offset":38},
"encoding":{"x":{"field":"x","type":"quantitative","scale":{"domain":[-66,66]},"axis":null},"y":{"field":"y","type":"quantitative","scale":{"domain":[-66,66]},"axis":null}},
"layer":[
{"data":{"name":"ang"},"transform":[{"filter":"datum.a % 90 != 0"},{"calculate":"0","as":"x"},{"calculate":"0","as":"y"},{"calculate":"-55*sin(datum.a*PI/180)","as":"x2"},{"calculate":"55*cos(datum.a*PI/180)","as":"y2"}],"mark":{"type":"rule","stroke":"#8c8c8c","strokeWidth":1,"strokeDash":[2,2]},"encoding":{"x2":{"field":"x2"},"y2":{"field":"y2"}}},
{"data":{"name":"ang"},"transform":[{"filter":"datum.a % 90 == 0"},{"calculate":"0","as":"x"},{"calculate":"0","as":"y"},{"calculate":"-55*sin(datum.a*PI/180)","as":"x2"},{"calculate":"55*cos(datum.a*PI/180)","as":"y2"}],"mark":{"type":"rule","stroke":"#9c9c9c","strokeWidth":1.5},"encoding":{"x2":{"field":"x2"},"y2":{"field":"y2"}}},
{"data":{"name":"rings"},"transform":[{"filter":"datum.u < 55"},{"calculate":"0","as":"x"},{"calculate":"0","as":"y"}],"mark":{"type":"point","shape":"circle","filled":false,"opacity":1,"stroke":"#8c8c8c","strokeWidth":1,"strokeDash":[2,2]},"encoding":{"size":{"field":"u","type":"quantitative","scale":{"type":"pow","exponent":2,"domain":[0,66],"range":[0,115600]},"legend":null}}},
{"data":{"name":"rings"},"transform":[{"filter":"datum.u == 55"},{"calculate":"0","as":"x"},{"calculate":"0","as":"y"}],"mark":{"type":"point","shape":"circle","filled":false,"opacity":1,"stroke":"#9c9c9c","strokeWidth":1.5},"encoding":{"size":{"field":"u","type":"quantitative","scale":{"type":"pow","exponent":2,"domain":[0,66],"range":[0,115600]},"legend":null}}},
{"data":{"name":"ang"},"transform":[{"calculate":"-60*sin(datum.a*PI/180)","as":"x"},{"calculate":"60*cos(datum.a*PI/180)","as":"y"}],"mark":{"type":"text","font":"DejaVu Sans","fontWeight":"bold","fontSize":14.5,"color":"#111"},"encoding":{"text":{"field":"a","type":"nominal"}}},
{"data":{"name":"rlab"},"transform":[{"calculate":"datum.u","as":"x"},{"calculate":"0","as":"y"}],"mark":{"type":"text","font":"DejaVu Sans","fontWeight":"bold","fontSize":14.5,"color":"#111","dy":15},"encoding":{"text":{"field":"t","type":"nominal"}}},
{"data":{"name":"rlab"},"transform":[{"filter":"datum.u == 0"},{"calculate":"0","as":"x"},{"calculate":"0","as":"y"}],"mark":{"type":"point","filled":true,"opacity":1,"color":"#333","size":20}},
{"data":{"name":"gain"},"transform":[{"filter":"datum.p == 'i'"},{"calculate":"-(datum.g+50)*sin(datum.a*PI/180)","as":"x"},{"calculate":"(datum.g+50)*cos(datum.a*PI/180)","as":"y"}],"mark":{"type":"line","interpolate":"cardinal-closed","strokeWidth":3.5},"encoding":{"order":{"field":"a","type":"quantitative"},"color":{"datum":"Free Space (f = 9)","type":"nominal","scale":{"range":["#ee1c24"]},"legend":{"title":null,"orient":"none","legendX":290,"legendY":32,"labelColor":"#ee1c24"}}}}
]},
{"width":340,"height":340,"title":{"text":"(j)","offset":38},
"encoding":{"x":{"field":"x","type":"quantitative","scale":{"domain":[-66,66]},"axis":null},"y":{"field":"y","type":"quantitative","scale":{"domain":[-66,66]},"axis":null}},
"layer":[
{"data":{"name":"ang"},"transform":[{"filter":"datum.a % 90 != 0"},{"calculate":"0","as":"x"},{"calculate":"0","as":"y"},{"calculate":"-55*sin(datum.a*PI/180)","as":"x2"},{"calculate":"55*cos(datum.a*PI/180)","as":"y2"}],"mark":{"type":"rule","stroke":"#8c8c8c","strokeWidth":1,"strokeDash":[2,2]},"encoding":{"x2":{"field":"x2"},"y2":{"field":"y2"}}},
{"data":{"name":"ang"},"transform":[{"filter":"datum.a % 90 == 0"},{"calculate":"0","as":"x"},{"calculate":"0","as":"y"},{"calculate":"-55*sin(datum.a*PI/180)","as":"x2"},{"calculate":"55*cos(datum.a*PI/180)","as":"y2"}],"mark":{"type":"rule","stroke":"#9c9c9c","strokeWidth":1.5},"encoding":{"x2":{"field":"x2"},"y2":{"field":"y2"}}},
{"data":{"name":"rings"},"transform":[{"filter":"datum.u < 55"},{"calculate":"0","as":"x"},{"calculate":"0","as":"y"}],"mark":{"type":"point","shape":"circle","filled":false,"opacity":1,"stroke":"#8c8c8c","strokeWidth":1,"strokeDash":[2,2]},"encoding":{"size":{"field":"u","type":"quantitative","scale":{"type":"pow","exponent":2,"domain":[0,66],"range":[0,115600]},"legend":null}}},
{"data":{"name":"rings"},"transform":[{"filter":"datum.u == 55"},{"calculate":"0","as":"x"},{"calculate":"0","as":"y"}],"mark":{"type":"point","shape":"circle","filled":false,"opacity":1,"stroke":"#9c9c9c","strokeWidth":1.5},"encoding":{"size":{"field":"u","type":"quantitative","scale":{"type":"pow","exponent":2,"domain":[0,66],"range":[0,115600]},"legend":null}}},
{"data":{"name":"ang"},"transform":[{"calculate":"-60*sin(datum.a*PI/180)","as":"x"},{"calculate":"60*cos(datum.a*PI/180)","as":"y"}],"mark":{"type":"text","font":"DejaVu Sans","fontWeight":"bold","fontSize":14.5,"color":"#111"},"encoding":{"text":{"field":"a","type":"nominal"}}},
{"data":{"name":"rlab"},"transform":[{"calculate":"datum.u","as":"x"},{"calculate":"0","as":"y"}],"mark":{"type":"text","font":"DejaVu Sans","fontWeight":"bold","fontSize":14.5,"color":"#111","dy":15},"encoding":{"text":{"field":"t","type":"nominal"}}},
{"data":{"name":"rlab"},"transform":[{"filter":"datum.u == 0"},{"calculate":"0","as":"x"},{"calculate":"0","as":"y"}],"mark":{"type":"point","filled":true,"opacity":1,"color":"#333","size":20}},
{"data":{"name":"gain"},"transform":[{"filter":"datum.p == 'j'"},{"calculate":"-(datum.g+50)*sin(datum.a*PI/180)","as":"x"},{"calculate":"(datum.g+50)*cos(datum.a*PI/180)","as":"y"}],"mark":{"type":"line","interpolate":"cardinal-closed","strokeWidth":3.5},"encoding":{"order":{"field":"a","type":"quantitative"},"color":{"datum":"Free Space (f = 9)","type":"nominal","scale":{"range":["#2a2c8c"]},"legend":{"title":null,"orient":"none","legendX":294,"legendY":40,"labelColor":"#2a2c8c"}}}}
]},
{"width":340,"height":340,"title":{"text":"(k)","offset":38},
"encoding":{"x":{"field":"x","type":"quantitative","scale":{"domain":[-66,66]},"axis":null},"y":{"field":"y","type":"quantitative","scale":{"domain":[-66,66]},"axis":null}},
"layer":[
{"data":{"name":"ang"},"transform":[{"filter":"datum.a % 90 != 0"},{"calculate":"0","as":"x"},{"calculate":"0","as":"y"},{"calculate":"-55*sin(datum.a*PI/180)","as":"x2"},{"calculate":"55*cos(datum.a*PI/180)","as":"y2"}],"mark":{"type":"rule","stroke":"#8c8c8c","strokeWidth":1,"strokeDash":[2,2]},"encoding":{"x2":{"field":"x2"},"y2":{"field":"y2"}}},
{"data":{"name":"ang"},"transform":[{"filter":"datum.a % 90 == 0"},{"calculate":"0","as":"x"},{"calculate":"0","as":"y"},{"calculate":"-55*sin(datum.a*PI/180)","as":"x2"},{"calculate":"55*cos(datum.a*PI/180)","as":"y2"}],"mark":{"type":"rule","stroke":"#9c9c9c","strokeWidth":1.5},"encoding":{"x2":{"field":"x2"},"y2":{"field":"y2"}}},
{"data":{"name":"rings"},"transform":[{"filter":"datum.u < 55"},{"calculate":"0","as":"x"},{"calculate":"0","as":"y"}],"mark":{"type":"point","shape":"circle","filled":false,"opacity":1,"stroke":"#8c8c8c","strokeWidth":1,"strokeDash":[2,2]},"encoding":{"size":{"field":"u","type":"quantitative","scale":{"type":"pow","exponent":2,"domain":[0,66],"range":[0,115600]},"legend":null}}},
{"data":{"name":"rings"},"transform":[{"filter":"datum.u == 55"},{"calculate":"0","as":"x"},{"calculate":"0","as":"y"}],"mark":{"type":"point","shape":"circle","filled":false,"opacity":1,"stroke":"#9c9c9c","strokeWidth":1.5},"encoding":{"size":{"field":"u","type":"quantitative","scale":{"type":"pow","exponent":2,"domain":[0,66],"range":[0,115600]},"legend":null}}},
{"data":{"name":"ang"},"transform":[{"calculate":"-60*sin(datum.a*PI/180)","as":"x"},{"calculate":"60*cos(datum.a*PI/180)","as":"y"}],"mark":{"type":"text","font":"DejaVu Sans","fontWeight":"bold","fontSize":14.5,"color":"#111"},"encoding":{"text":{"field":"a","type":"nominal"}}},
{"data":{"name":"rlab"},"transform":[{"calculate":"datum.u","as":"x"},{"calculate":"0","as":"y"}],"mark":{"type":"text","font":"DejaVu Sans","fontWeight":"bold","fontSize":14.5,"color":"#111","dy":15},"encoding":{"text":{"field":"t","type":"nominal"}}},
{"data":{"name":"rlab"},"transform":[{"filter":"datum.u == 0"},{"calculate":"0","as":"x"},{"calculate":"0","as":"y"}],"mark":{"type":"point","filled":true,"opacity":1,"color":"#333","size":20}},
{"data":{"name":"gain"},"transform":[{"filter":"datum.p == 'k'"},{"calculate":"-(datum.g+50)*sin(datum.a*PI/180)","as":"x"},{"calculate":"(datum.g+50)*cos(datum.a*PI/180)","as":"y"}],"mark":{"type":"line","interpolate":"cardinal-closed","strokeWidth":3.5},"encoding":{"order":{"field":"a","type":"quantitative"},"color":{"datum":"Free Space (f = 10)","type":"nominal","scale":{"range":["#ee1c24"]},"legend":{"title":null,"orient":"none","legendX":291,"legendY":47,"labelColor":"#ee1c24"}}}}
]},
{"width":340,"height":340,"title":{"text":"(l)","offset":38},
"encoding":{"x":{"field":"x","type":"quantitative","scale":{"domain":[-66,66]},"axis":null},"y":{"field":"y","type":"quantitative","scale":{"domain":[-66,66]},"axis":null}},
"layer":[
{"data":{"name":"ang"},"transform":[{"filter":"datum.a % 90 != 0"},{"calculate":"0","as":"x"},{"calculate":"0","as":"y"},{"calculate":"-55*sin(datum.a*PI/180)","as":"x2"},{"calculate":"55*cos(datum.a*PI/180)","as":"y2"}],"mark":{"type":"rule","stroke":"#8c8c8c","strokeWidth":1,"strokeDash":[2,2]},"encoding":{"x2":{"field":"x2"},"y2":{"field":"y2"}}},
{"data":{"name":"ang"},"transform":[{"filter":"datum.a % 90 == 0"},{"calculate":"0","as":"x"},{"calculate":"0","as":"y"},{"calculate":"-55*sin(datum.a*PI/180)","as":"x2"},{"calculate":"55*cos(datum.a*PI/180)","as":"y2"}],"mark":{"type":"rule","stroke":"#9c9c9c","strokeWidth":1.5},"encoding":{"x2":{"field":"x2"},"y2":{"field":"y2"}}},
{"data":{"name":"rings"},"transform":[{"filter":"datum.u < 55"},{"calculate":"0","as":"x"},{"calculate":"0","as":"y"}],"mark":{"type":"point","shape":"circle","filled":false,"opacity":1,"stroke":"#8c8c8c","strokeWidth":1,"strokeDash":[2,2]},"encoding":{"size":{"field":"u","type":"quantitative","scale":{"type":"pow","exponent":2,"domain":[0,66],"range":[0,115600]},"legend":null}}},
{"data":{"name":"rings"},"transform":[{"filter":"datum.u == 55"},{"calculate":"0","as":"x"},{"calculate":"0","as":"y"}],"mark":{"type":"point","shape":"circle","filled":false,"opacity":1,"stroke":"#9c9c9c","strokeWidth":1.5},"encoding":{"size":{"field":"u","type":"quantitative","scale":{"type":"pow","exponent":2,"domain":[0,66],"range":[0,115600]},"legend":null}}},
{"data":{"name":"ang"},"transform":[{"calculate":"-60*sin(datum.a*PI/180)","as":"x"},{"calculate":"60*cos(datum.a*PI/180)","as":"y"}],"mark":{"type":"text","font":"DejaVu Sans","fontWeight":"bold","fontSize":14.5,"color":"#111"},"encoding":{"text":{"field":"a","type":"nominal"}}},
{"data":{"name":"rlab"},"transform":[{"calculate":"datum.u","as":"x"},{"calculate":"0","as":"y"}],"mark":{"type":"text","font":"DejaVu Sans","fontWeight":"bold","fontSize":14.5,"color":"#111","dy":15},"encoding":{"text":{"field":"t","type":"nominal"}}},
{"data":{"name":"rlab"},"transform":[{"filter":"datum.u == 0"},{"calculate":"0","as":"x"},{"calculate":"0","as":"y"}],"mark":{"type":"point","filled":true,"opacity":1,"color":"#333","size":20}},
{"data":{"name":"gain"},"transform":[{"filter":"datum.p == 'l'"},{"calculate":"-(datum.g+50)*sin(datum.a*PI/180)","as":"x"},{"calculate":"(datum.g+50)*cos(datum.a*PI/180)","as":"y"}],"mark":{"type":"line","interpolate":"cardinal-closed","strokeWidth":3.5},"encoding":{"order":{"field":"a","type":"quantitative"},"color":{"datum":"Free Space (f = 10)","type":"nominal","scale":{"range":["#2a2c8c"]},"legend":{"title":null,"orient":"none","legendX":295,"legendY":36,"labelColor":"#2a2c8c"}}}}
]}
],
"resolve": {"scale": {"color": "independent"}, "legend": {"color": "independent"}},
"config": {
"view": {"stroke": null},
"title": {"orient": "bottom", "anchor": "middle", "font": "Liberation Serif", "fontSize": 40, "fontWeight": "normal", "color": "#000"},
"legend": {"strokeColor": "#333", "strokeWidth": 2, "padding": 4, "symbolType": "stroke", "symbolStrokeWidth": 3, "symbolSize": 625, "labelFont": "Liberation Sans", "labelFontWeight": "bold", "labelFontSize": 14, "labelOffset": 4}
}
}
